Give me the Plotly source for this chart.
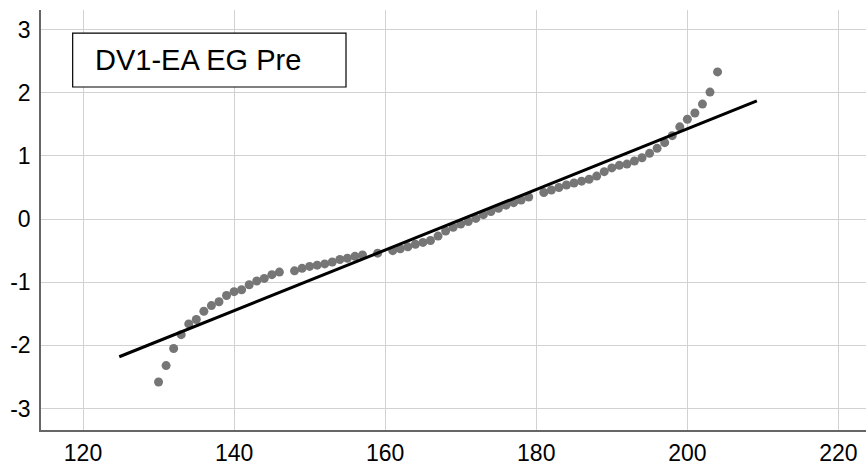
import plotly.graph_objects as go

# Observed values (x) and expected normal values (y)
obs_values = [130, 131, 132, 133, 134, 135, 136, 137, 138, 139, 140, 141, 142, 143, 144, 145, 146,
              148, 149, 150, 151, 152, 153, 154, 155, 156, 157, 159,
              161, 162, 163, 164, 165, 166, 167, 168, 169, 170, 171, 172, 173, 174, 175, 176, 177, 178, 179,
              181, 182, 183, 184, 185, 186, 187, 188, 189, 190, 191, 192, 193, 194, 195, 196, 197, 198, 199,
              200, 201, 202, 203, 204]
expected_normal = [-2.58, -2.32, -2.05, -1.83, -1.66, -1.59, -1.46, -1.37, -1.31, -1.21, -1.15, -1.12, -1.04,
                   -0.98, -0.94, -0.88, -0.84,
                   -0.82, -0.78, -0.75, -0.73, -0.71, -0.68, -0.64, -0.62, -0.59, -0.57, -0.54,
                   -0.50, -0.47, -0.44, -0.40, -0.37, -0.34, -0.27, -0.19, -0.13, -0.08, -0.04, 0.01, 0.07,
                   0.12, 0.17, 0.22, 0.26, 0.30, 0.35,
                   0.42, 0.46, 0.50, 0.54, 0.57, 0.60, 0.63, 0.68, 0.75, 0.81, 0.85, 0.87, 0.92, 0.97, 1.04,
                   1.12, 1.21, 1.32, 1.46,
                   1.58, 1.68, 1.82, 2.01, 2.33]

# Reference line endpoints
line_x = [124.8, 209.2]
line_y = [-2.18, 1.87]

x_ticks = [120, 140, 160, 180, 200, 220]
y_ticks = [-3, -2, -1, 0, 1, 2, 3]
title_text = "DV1-EA EG Pre"

fig = go.Figure()
fig.add_trace(go.Scatter(x=obs_values, y=expected_normal, mode="markers",
                         marker=dict(color="#767676", size=9, line=dict(width=0)),
                         showlegend=False, hoverinfo="skip"))
fig.add_trace(go.Scatter(x=line_x, y=line_y, mode="lines",
                         line=dict(color="black", width=3),
                         showlegend=False, hoverinfo="skip"))

font_family = "Liberation Sans, Arial, sans-serif"
fig.update_layout(
    width=866, height=468,
    margin=dict(l=41, r=0, t=10, b=38),
    paper_bgcolor="white", plot_bgcolor="white",
    xaxis=dict(range=[114.44, 223.65], tickvals=x_ticks, ticktext=[str(v) for v in x_ticks],
               showgrid=True, gridcolor="#d2d2d2", gridwidth=1, automargin=False,
               zeroline=False, showline=True, linecolor="#666666", linewidth=1.5,
               ticks="outside", ticklen=2, tickcolor="rgba(0,0,0,0)",
               tickfont=dict(family=font_family, size=23, color="black")),
    yaxis=dict(range=[-3.34, 3.31], tickvals=y_ticks, ticktext=[str(v) for v in y_ticks],
               showgrid=True, gridcolor="#d2d2d2", gridwidth=1, automargin=False,
               zeroline=False, showline=True, linecolor="#666666", linewidth=1.5,
               ticks="outside", ticklen=4, tickcolor="rgba(0,0,0,0)",
               tickfont=dict(family=font_family, size=23, color="black")),
    shapes=[dict(type="rect", xref="paper", yref="paper",
                 x0=0.0384, x1=0.3697, y0=0.8167, y1=0.945,
                 line=dict(color="black", width=1.2), fillcolor="white", layer="above")],
    annotations=[dict(text=title_text, xref="paper", yref="paper", x=0.063, y=0.881,
                      xanchor="left", yanchor="middle", showarrow=False,
                      font=dict(family=font_family, size=29, color="black"))],
)

fig.write_html("out.html", config={"displayModeBar": False},
               post_script="document.body.style.margin='0';")
